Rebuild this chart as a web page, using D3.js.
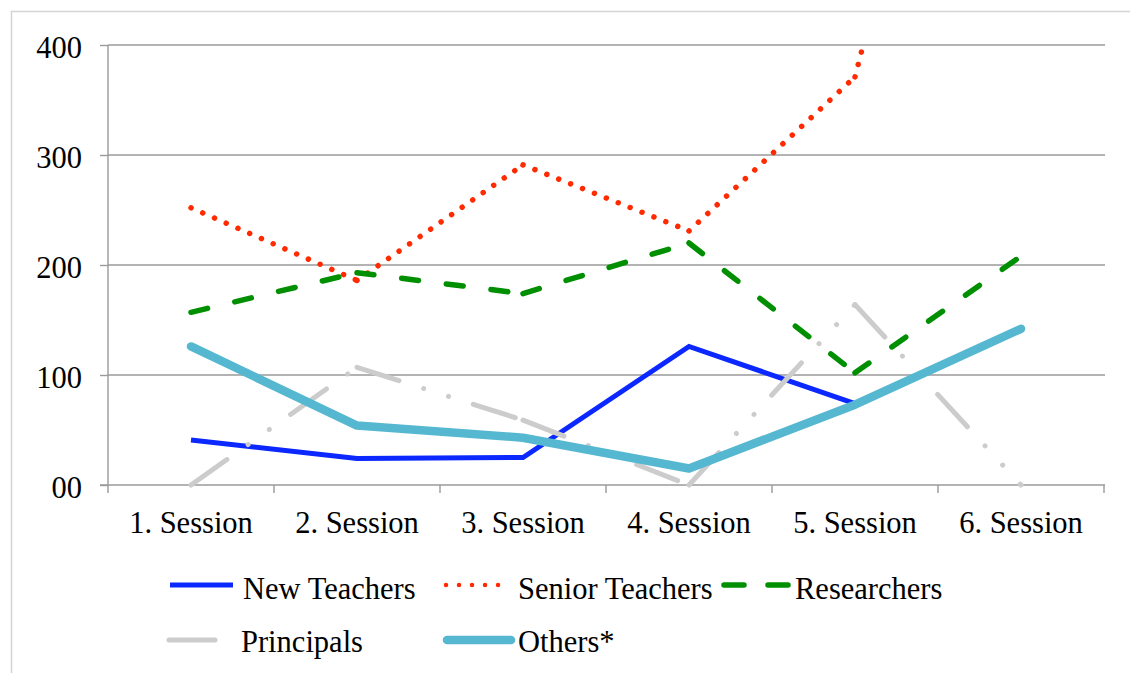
<!DOCTYPE html>
<html>
<head>
<meta charset="utf-8">
<script src="https://cdn.jsdelivr.net/npm/d3@7"></script>
<style>
  html, body { margin: 0; padding: 0; background: #fff; }
  svg { display: block; font-family: "Liberation Serif", "Times New Roman", serif; }
</style>
</head>
<body>
<svg id="chart" width="1130" height="673"></svg>
<script>
// Attendance per session, by participant group
const sessions = ["1. Session", "2. Session", "3. Session", "4. Session", "5. Session", "6. Session"];
const newTeachers    = [41, 24, 25, 126, 74, null];
const seniorTeachers = [252, 186, 291, 231, 371, 960];
const researchers    = [157, 193, 174, 220, 102, 208];
const principals     = [0, 107, 59, 0, 164, 0];
const others         = [126, 54, 43, 15, 73, 142];
const yTicks = [0, 100, 200, 300, 400];
const yTickLabels = ["00", "100", "200", "300", "400"];

const seriesStyles = [
  { name: "New Teachers",    values: newTeachers,    color: "#0a28ff", width: 5,   dash: null,                          cap: "butt",  join: "miter" },
  { name: "Senior Teachers", values: seniorTeachers, color: "#ff2a00", width: 5.5, dash: "0.01 12.8",                   cap: "round", join: "round" },
  { name: "Researchers",     values: researchers,    color: "#008f00", width: 5.5, dash: "17 28",                       cap: "round", join: "round" },
  { name: "Principals",      values: principals,     color: "#cccccc", width: 5,   dash: "44 26 0.01 26 0.01 26",       cap: "round", join: "round" },
  { name: "Others*",         values: others,         color: "#56b8d0", width: 8.5, dash: null,                          cap: "round", join: "round" }
];

const FONT_SIZE = 30.5;
const svg = d3.select("#chart");
const plotLeft = 108, plotRight = 1104, plotTop = 45, plotBottom = 485;

const x = d3.scaleBand().domain(sessions).range([plotLeft, plotRight]).padding(0);
const xc = d => x(d) + x.bandwidth() / 2;
const y = d3.scaleLinear().domain([0, 400]).range([plotBottom, plotTop]);

// outer frame
svg.append("path")
  .attr("d", `M11.5,673 V11.5 H1130`)
  .attr("fill", "none").attr("stroke", "#d4d4d4").attr("stroke-width", 1.5);

const axisColor = "#9a9a9a";

// horizontal gridlines
svg.append("g")
  .selectAll("line")
  .data(yTicks.filter(t => t > 0))
  .join("line")
  .attr("x1", plotLeft).attr("x2", plotRight + 1)
  .attr("y1", d => y(d)).attr("y2", d => y(d))
  .attr("stroke", axisColor).attr("stroke-width", 1.4);

// y axis
const yAxis = d3.axisLeft(y).tickValues(yTicks)
  .tickFormat((d, i) => yTickLabels[i]).tickSize(8).tickPadding(18);
const gy = svg.append("g").attr("transform", `translate(${plotLeft},0)`).call(yAxis);
gy.select(".domain").remove();
gy.selectAll(".tick line").attr("stroke", axisColor).attr("stroke-width", 1.4);
gy.selectAll(".tick text")
  .attr("fill", "#000").attr("font-size", FONT_SIZE)
  .attr("font-family", "Liberation Serif, Times New Roman, serif")
  .attr("dy", "0.4em");
svg.append("line")
  .attr("x1", plotLeft).attr("x2", plotLeft).attr("y1", plotTop).attr("y2", plotBottom)
  .attr("stroke", axisColor).attr("stroke-width", 1.4);

// x axis with boundary ticks between categories
svg.append("line")
  .attr("x1", plotLeft - 8).attr("x2", plotRight + 1).attr("y1", plotBottom).attr("y2", plotBottom)
  .attr("stroke", axisColor).attr("stroke-width", 1.4);
const boundaries = sessions.map(s => x(s)).concat([x(sessions[sessions.length - 1]) + x.bandwidth()]);
svg.append("g").selectAll("line")
  .data(boundaries)
  .join("line")
  .attr("x1", d => d).attr("x2", d => d)
  .attr("y1", plotBottom).attr("y2", plotBottom + 8)
  .attr("stroke", axisColor).attr("stroke-width", 1.4);
svg.append("g").selectAll("text")
  .data(sessions)
  .join("text")
  .attr("x", d => xc(d)).attr("y", 533)
  .attr("text-anchor", "middle").attr("font-size", FONT_SIZE).attr("fill", "#000")
  .text(d => d);

// plot-area clip
svg.append("clipPath").attr("id", "plotClip")
  .append("rect").attr("x", plotLeft - 10).attr("y", plotTop)
  .attr("width", plotRight - plotLeft + 20).attr("height", plotBottom - plotTop + 10);

// each series drawn segment by segment, so dash patterns restart at every point
const line = d3.line().x(d => xc(d.s)).y(d => y(d.v));
const plot = svg.append("g").attr("clip-path", "url(#plotClip)");
seriesStyles.forEach(st => {
  const segs = [];
  for (let i = 0; i < sessions.length - 1; i++) {
    const a = st.values[i], b = st.values[i + 1];
    if (a == null || b == null) continue;
    segs.push([{ s: sessions[i], v: a }, { s: sessions[i + 1], v: b }]);
  }
  const g = plot.append("g");
  if (st.dash) {
    g.selectAll("path").data(segs).join("path")
      .attr("d", line)
      .attr("fill", "none").attr("stroke", st.color).attr("stroke-width", st.width)
      .attr("stroke-linecap", st.cap).attr("stroke-linejoin", st.join)
      .attr("stroke-dasharray", st.dash);
  } else {
    const pts = st.values.map((v, i) => ({ s: sessions[i], v })).filter(d => d.v != null);
    g.append("path").attr("d", line(pts))
      .attr("fill", "none").attr("stroke", st.color).attr("stroke-width", st.width)
      .attr("stroke-linecap", st.cap).attr("stroke-linejoin", st.join);
  }
});

// legend
const legendItems = [
  { i: 0, x1: 170, x2: 233, ly: 585, tx: 243, ty: 599 },
  { i: 1, x1: 446, x2: 511, ly: 585, tx: 518, ty: 599 },
  { i: 2, x1: 724, x2: 788, ly: 585, tx: 795, ty: 599 },
  { i: 3, x1: 169, x2: 215, ly: 640, tx: 241, ty: 652 },
  { i: 4, x1: 447, x2: 511, ly: 640, tx: 518, ty: 652 }
];
const legendDash = ["", "0.01 13", "20 24", "", ""];
const lg = svg.append("g");
legendItems.forEach(it => {
  const st = seriesStyles[it.i];
  lg.append("line")
    .attr("x1", it.x1).attr("x2", it.x2).attr("y1", it.ly).attr("y2", it.ly)
    .attr("stroke", st.color)
    .attr("stroke-width", it.i === 1 ? 4.5 : st.width)
    .attr("stroke-linecap", it.i === 0 ? "butt" : "round")
    .attr("stroke-dasharray", legendDash[it.i] || null);
  lg.append("text")
    .attr("x", it.tx).attr("y", it.ty)
    .attr("font-size", FONT_SIZE).attr("fill", "#000")
    .text(st.name);
});
</script>
</body>
</html>
